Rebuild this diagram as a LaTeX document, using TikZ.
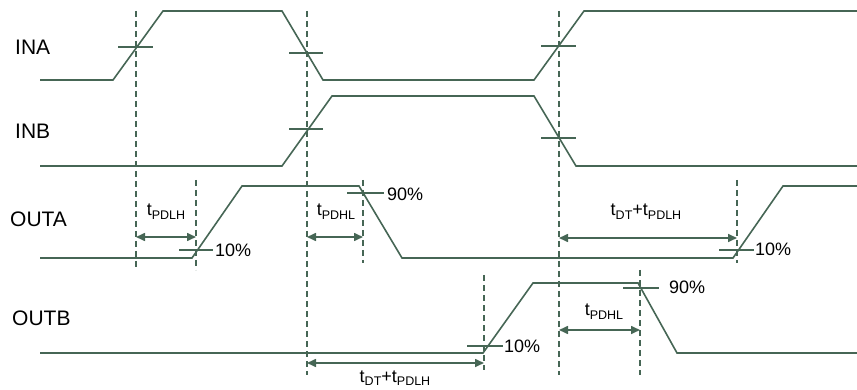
\documentclass[tikz,border=0pt]{standalone}
\usepackage{fontspec}
\setmainfont{Liberation Sans}
\usetikzlibrary{arrows.meta}
\definecolor{wv}{RGB}{70,102,85}
\newcommand\tsb[1]{t\raisebox{-3.5pt}{\fontsize{12.5}{13}\selectfont #1}}
\tikzset{
  wave/.style={draw=wv, line width=1.6pt, line join=miter},
  tickln/.style={draw=wv, line width=1.4pt},
  guide/.style={draw=wv, line width=1.4pt, dash pattern=on 6pt off 4pt},
  dim/.style={draw=wv, line width=1.6pt, {Triangle[length=9pt,width=8pt]}-{Triangle[length=9pt,width=8pt]}},
  sig/.style={anchor=base west, inner sep=0pt, font=\fontsize{21}{24}\selectfont},
  pct/.style={anchor=base west, inner sep=0pt, font=\fontsize{18}{20}\selectfont},
  tl/.style={anchor=base, inner sep=0pt, font=\fontsize{18}{20}\selectfont},
}
\begin{document}
\begin{tikzpicture}[x=1pt,y=-1pt]
\useasboundingbox (0,0) rectangle (857,390);
% signal names
\node[sig] (ina) at (15,55) {INA};
\node[sig] (inb) at (15,139) {INB};
\node[sig] (outa) at (10,227) {OUTA};
\node[sig] (outb) at (12,325) {OUTB};
% waveforms
\draw[wave] (40,80) -- (113,80) -- (163,11) -- (282,11) -- (323,80) -- (534,80) -- (584,11) -- (857,11);
\draw[wave] (40,166) -- (282,166) -- (332,96) -- (534,96) -- (576,166) -- (857,166);
\draw[wave] (40,258) -- (192,258) -- (242,186) -- (359,186) -- (402,258) -- (733,258) -- (783,186) -- (857,186);
\draw[wave] (40,353) -- (483,353) -- (533,283) -- (638,283) -- (677,353) -- (857,353);
% dashed guides
\draw[guide] (136,11) -- (136,270);
\draw[guide] (307,11) -- (307,375);
\draw[guide] (559,11) -- (559,375);
\draw[guide] (196,180) -- (196,270);
\draw[guide] (363,180) -- (363,263);
\draw[guide] (737,180) -- (737,263);
\draw[guide] (484,275) -- (484,370);
\draw[guide] (640,270) -- (640,375);
% crossing ticks
\draw[tickln] (118,47) -- (153,47);
\draw[tickln] (289,53) -- (323,53);
\draw[tickln] (541,46) -- (576,46);
\draw[tickln] (289,129) -- (323,129);
\draw[tickln] (541,138) -- (576,138);
\draw[tickln] (179,250) -- (213,250);
\draw[tickln] (347,193) -- (384,193);
\draw[tickln] (719,250) -- (754,250);
\draw[tickln] (467,346) -- (503,346);
\draw[tickln] (623,288) -- (659,288);
% percentage labels
\node[pct] (p1) at (215,257) {10\%};
\node[pct] (p2) at (387,201) {90\%};
\node[pct] (p3) at (755,256) {10\%};
\node[pct] (p4) at (504,352) {10\%};
\node[pct] (p5) at (669,293) {90\%};
% dimension arrows
\coordinate (a1) at (136,237); \coordinate (b1) at (196,237);
\coordinate (a2) at (307,237); \coordinate (b2) at (363,237);
\coordinate (a3) at (559,238); \coordinate (b3) at (737,238);
\coordinate (a4) at (559,330); \coordinate (b4) at (640,330);
\coordinate (a5) at (307,363); \coordinate (b5) at (484,363);
\draw[dim] (a1) -- (b1);
\draw[dim] (a2) -- (b2);
\draw[dim] (a3) -- (b3);
\draw[dim] (a4) -- (b4);
\draw[dim] (a5) -- (b5);
% timing labels
\node[tl] (t1) at (166,216) {\tsb{PDLH}};
\node[tl] (t2) at (336,216) {\tsb{PDHL}};
\node[tl] (t3) at (646,216) {\tsb{DT}+\tsb{PDLH}};
\node[tl] (t4) at (604,316) {\tsb{PDHL}};
\node[tl] (t5) at (395,382) {\tsb{DT}+\tsb{PDLH}};
\end{tikzpicture}
\end{document}
